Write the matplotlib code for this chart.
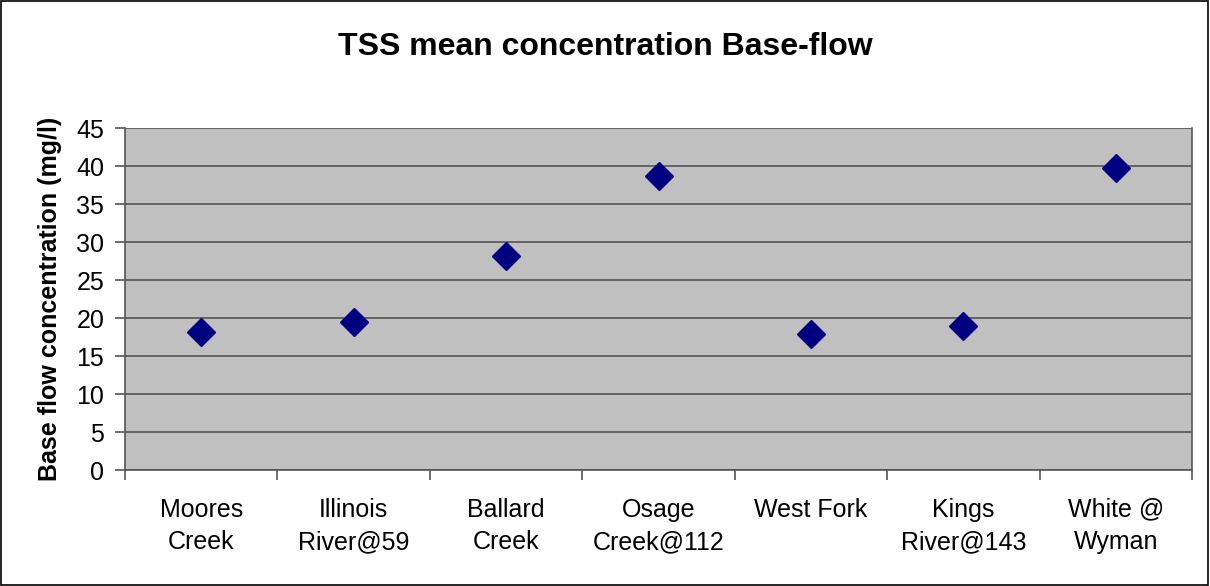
import matplotlib.pyplot as plt
from matplotlib.patches import Rectangle

plt.rcParams['font.family'] = ['Liberation Sans', 'DejaVu Sans']

# data
sites = ["Moores\nCreek", "Illinois\nRiver@59", "Ballard\nCreek", "Osage\nCreek@112",
         "West Fork", "Kings\nRiver@143", "White @\nWyman"]
tss_mean = [18.2, 19.5, 28.2, 38.7, 17.9, 19.0, 39.8]
y_ticks = list(range(0, 50, 5))

fig = plt.figure(figsize=(12.1, 5.86), dpi=100)
ax = fig.add_axes([125 / 1210, 1 - 470 / 586, (1192 - 125) / 1210, (470 - 128) / 586])

x = list(range(len(sites)))
ax.plot(x, tss_mean, linestyle='none', marker='D', markersize=14.5,
        color='#000080', markeredgecolor='#000080')

ax.set_facecolor('#C0C0C0')
ax.set_xlim(-0.5, len(sites) - 0.5)
ax.set_ylim(0, 45)
ax.set_yticks(y_ticks)
ax.yaxis.grid(True, color='#555555', linewidth=1.2)
ax.set_axisbelow(True)

# category labels centered, ticks on category boundaries
ax.set_xticks(x)
ax.set_xticklabels(sites, fontsize=18, linespacing=1.45)
ax.tick_params(axis='x', length=0, pad=20)
ax.set_xticks([i - 0.5 for i in range(len(sites) + 1)], minor=True)
ax.tick_params(axis='x', which='minor', length=7, color='#555555', width=1.2)
ax.tick_params(axis='y', labelsize=18, length=7, color='#555555', width=1.2, pad=8)

for side in ['left', 'bottom', 'right']:
    ax.spines[side].set_color('#555555')
    ax.spines[side].set_linewidth(1.2)
ax.spines['top'].set_visible(False)

ax.set_ylabel("Base flow concentration (mg/l)", fontsize=18, fontweight='bold', labelpad=10)
fig.text(0.5, 1 - 47 / 586, "TSS mean concentration Base-flow", ha='center', va='center',
         fontsize=23, fontweight='bold')

fig.patches.append(Rectangle((0.001, 0.001), 0.997, 0.997, transform=fig.transFigure,
                             fill=False, edgecolor='black', linewidth=1.2))

fig.savefig('out.png', dpi=100)
